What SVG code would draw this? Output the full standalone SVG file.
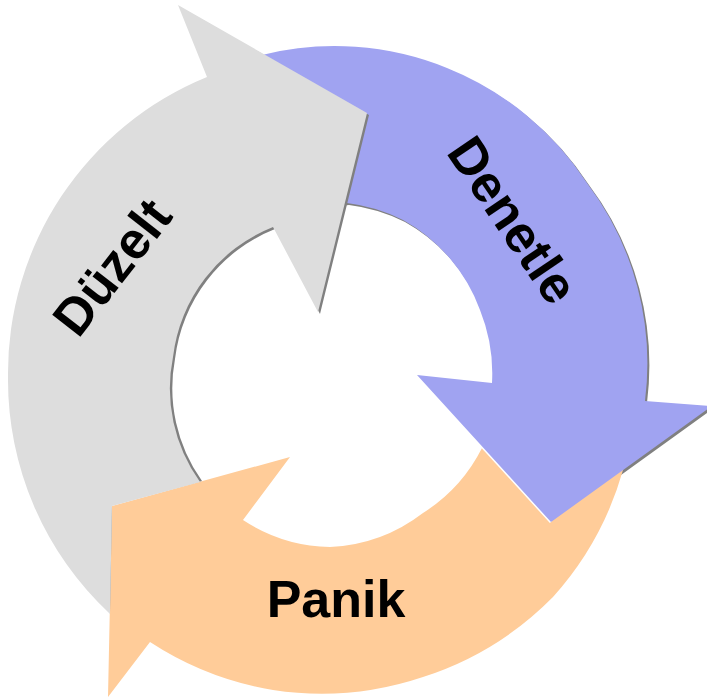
<svg xmlns="http://www.w3.org/2000/svg" xmlns:xlink="http://www.w3.org/1999/xlink" width="707" height="700" viewBox="0 0 707 700">
  <style>
    .shadow { fill: #808080; }
    .gray { fill: #DDDDDD; }
    .blue { fill: #A0A3F1; }
    .orange { fill: #FFCC99; }
    .label { font-family: "Liberation Sans", Arial, sans-serif; font-weight: bold; font-size: 52px; fill: #000000; text-anchor: middle; }
  </style>
  <defs>
    <path id="bluePath" d="M250,62 L262,55 A300,300 0 0 1 447,68 A300,300 0 0 1 587,183 A300,300 0 0 1 645,401 L712,406 L551,522 L417,375 L492,383 A170,170 0 0 0 480,310 A170,170 0 0 0 403,220 A170,170 0 0 0 347,203 L320,206 Z"/>
    <path id="grayShadowPath" d="M200,479 A160,160 0 0 1 173,357 A160,160 0 0 1 273,227 L318,312 L367,113 L178,5 L207,77 A320,320 0 0 0 8,377 A320,320 0 0 0 108,610 L110,503 Z"/>
  </defs>

  <!-- blue shadow (under orange) -->
  <use xlink:href="#bluePath" href="#bluePath" class="shadow" transform="translate(2,2)"/>

  <g id="node-panik">
    <path class="orange" d="M490,430 L632,440 L623,470 A320,320 0 0 1 553,597 A320,320 0 0 1 423,677 A320,320 0 0 1 273,690 A320,320 0 0 1 150,642 L108,697 L112,506 L290,457 L243,520 A165,165 0 0 0 330,547 A165,165 0 0 0 423,513 A165,165 0 0 0 482,448 Z"/>
    <text class="label" x="336" y="617">Panik</text>
  </g>

  <g id="connectors">
    <line x1="417" y1="375" x2="551" y2="522" stroke="#FFFFFF" stroke-width="3"/>
  </g>

  <g id="node-denetle">
    <use xlink:href="#bluePath" href="#bluePath" class="blue"/>
    <text class="label" transform="translate(513,220) rotate(56)" x="0" y="18">Denetle</text>
  </g>

  <!-- gray shadow (over blue) -->
  <use xlink:href="#grayShadowPath" href="#grayShadowPath" class="shadow" transform="translate(2,2)"/>

  <g id="node-duzelt">
    <path class="gray" d="M200,482 A160,160 0 0 1 173,357 A160,160 0 0 1 273,227 L318,312 L367,113 L178,5 L207,77 A320,320 0 0 0 8,377 A320,320 0 0 0 110,614 L112,506 Z"/>
    <text class="label" transform="translate(112,267) rotate(-52)" x="0" y="18">Düzelt</text>
  </g>
</svg>
